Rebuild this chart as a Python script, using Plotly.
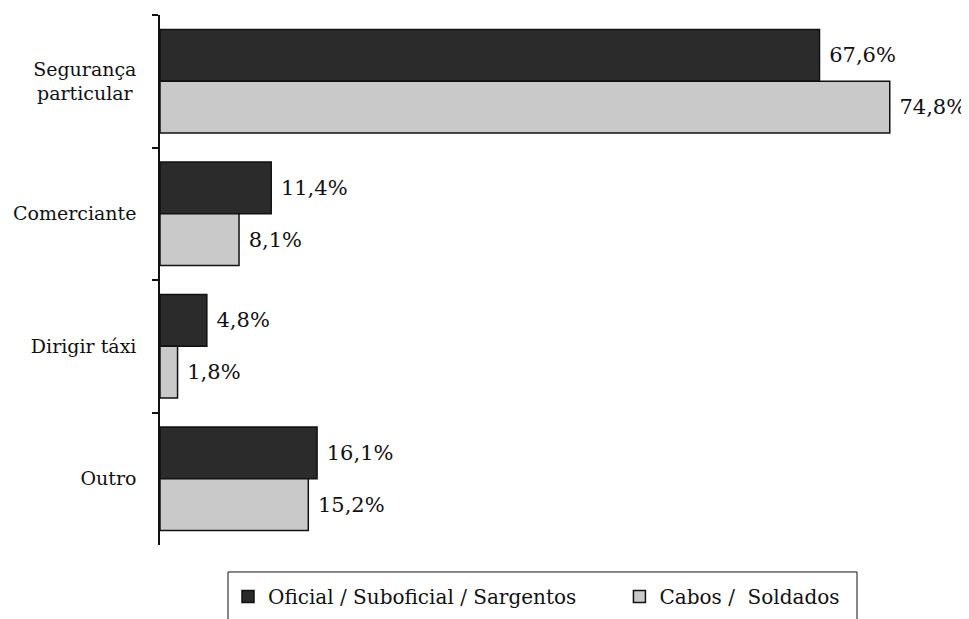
import plotly.graph_objects as go

categories = ["Segurança<br>particular\u2009", "Comerciante", "Dirigir táxi", "Outro"]
series_names = ["Oficial / Suboficial / Sargentos", "Cabos /  Soldados"]
oficiais = [67.6, 11.4, 4.8, 16.1]
cabos = [74.8, 8.1, 1.8, 15.2]
colors = ["#2b2b2b", "#c9c9c9"]

FONT = "DejaVu Serif"

def fmt(v):
    return "\u00a0" + f"{v:.1f}".replace(".", ",") + "%"

pad = "\u00a0" * 6
fig = go.Figure()
for i, (name, vals, col) in enumerate(zip(series_names, [oficiais, cabos], colors)):
    fig.add_trace(go.Bar(
        y=categories, x=vals, name=name + (pad if i == 0 else "\u00a0\u00a0"), orientation="h",
        marker=dict(color=col, line=dict(color="#111111", width=1.5)),
        text=[fmt(v) for v in vals], textposition="outside",
        textfont=dict(family=FONT, size=21, color="#111111"),
        cliponaxis=False,
    ))

# legend frame (bottom edge runs past the page edge, as in the reference)
fig.add_shape(type="rect", xref="paper", yref="paper",
              x0=0.085, x1=0.87125, y0=-0.17, y1=-0.0509,
              line=dict(color="#111111", width=1), fillcolor="rgba(0,0,0,0)", layer="above")

fig.update_layout(
    width=961, height=611,
    margin=dict(l=152, r=9, t=7, b=74),
    paper_bgcolor="white", plot_bgcolor="white",
    barmode="group", bargap=0.22, bargroupgap=0,
    font=dict(family=FONT, size=19, color="#111111"),
    xaxis=dict(visible=False, range=[0, 82], automargin=False),
    yaxis=dict(
        autorange="reversed", type="category", automargin=False,
        showline=True, linecolor="#111111", linewidth=1.5,
        ticks="outside", tickson="boundaries", ticklen=6, tickcolor="#111111",
        tickwidth=1.5, showgrid=False, zeroline=False, ticklabelstandoff=18,
        tickfont=dict(family=FONT, size=19, color="#111111"),
    ),
    showlegend=True,
    legend=dict(
        orientation="h", x=0.085, xanchor="left",
        yref="container", y=0.0687, yanchor="top",
        borderwidth=0, bgcolor="rgba(0,0,0,0)",
        font=dict(family=FONT, size=20, color="#111111"),
        traceorder="normal",
    ),
)

fig.write_html("out.html")
